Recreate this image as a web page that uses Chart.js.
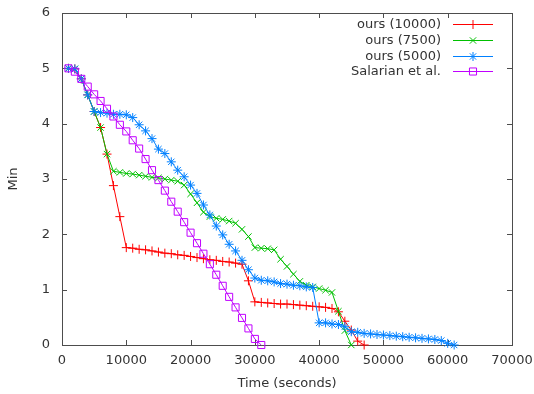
<!DOCTYPE html>
<html>
<head>
<meta charset="utf-8">
<script src="https://cdn.jsdelivr.net/npm/chart.js@4/dist/chart.umd.min.js"></script>
<style>
  html, body { margin: 0; padding: 0; background: #fff; }
  #wrap { width: 534px; height: 394px; }
</style>
</head>
<body>
<div id="wrap"><canvas id="chart" width="534" height="394"></canvas></div>
<script>
// --- DATA ---
const seconds = [1000, 2000, 3000, 4000, 5000, 6000, 7000, 8000, 9000, 10000,
  11000, 12000, 13000, 14000, 15000, 16000, 17000, 18000, 19000, 20000,
  21000, 22000, 23000, 24000, 25000, 26000, 27000, 28000, 29000, 30000,
  31000, 32000, 33000, 34000, 35000, 36000, 37000, 38000, 39000, 40000,
  41000, 42000, 43000, 44000, 45000, 46000, 47000, 48000, 49000, 50000,
  51000, 52000, 53000, 54000, 55000, 56000, 57000, 58000, 59000, 60000, 61000];

const seriesLabels = ['ours (10000)', 'ours (7500)', 'ours (5000)', 'Salarian et al.'];

const ours10000 = [5.0, 4.99, 4.81, 4.52, 4.22, 3.93, 3.45, 2.88, 2.32, 1.76,
  1.75, 1.73, 1.72, 1.70, 1.68, 1.66, 1.65, 1.63, 1.62, 1.60,
  1.58, 1.56, 1.54, 1.53, 1.51, 1.50, 1.48, 1.46, 1.16, 0.78,
  0.77, 0.76, 0.75, 0.74, 0.74, 0.73, 0.72, 0.71, 0.70, 0.69,
  0.68, 0.66, 0.60, 0.43, 0.27, 0.07, 0.0];

const ours7500 = [5.0, 4.99, 4.81, 4.52, 4.22, 3.93, 3.45, 3.14, 3.12, 3.10,
  3.09, 3.07, 3.05, 3.03, 3.02, 3.00, 2.98, 2.96, 2.89, 2.73,
  2.57, 2.40, 2.32, 2.29, 2.27, 2.24, 2.20, 2.09, 1.96, 1.76,
  1.75, 1.74, 1.72, 1.55, 1.42, 1.28, 1.15, 1.08, 1.05, 1.02,
  0.99, 0.95, 0.61, 0.26, 0.0];

const ours5000 = [5.0, 4.99, 4.81, 4.52, 4.22, 4.20, 4.19, 4.17, 4.17, 4.16,
  4.11, 3.98, 3.87, 3.73, 3.54, 3.46, 3.31, 3.16, 3.04, 2.89,
  2.74, 2.53, 2.35, 2.15, 1.99, 1.82, 1.70, 1.53, 1.36, 1.21,
  1.17, 1.16, 1.14, 1.11, 1.10, 1.08, 1.07, 1.05, 1.04, 0.40,
  0.40, 0.38, 0.37, 0.33, 0.24, 0.23, 0.21, 0.20, 0.19, 0.18,
  0.17, 0.16, 0.15, 0.14, 0.13, 0.12, 0.11, 0.10, 0.08, 0.03, 0.0];

const salarian = [5.0, 4.94, 4.81, 4.67, 4.53, 4.41, 4.27, 4.13, 3.98, 3.86,
  3.70, 3.55, 3.36, 3.16, 2.98, 2.79, 2.59, 2.41, 2.22, 2.03,
  1.84, 1.65, 1.46, 1.27, 1.07, 0.87, 0.68, 0.49, 0.30, 0.11, 0.0];

const xTicks = [0, 10000, 20000, 30000, 40000, 50000, 60000, 70000];
const yTicks = [0, 1, 2, 3, 4, 5, 6];

const FONT = 'DejaVu Sans';
const TEXT = '#333333';
const FRAME = '#4d4d4d';

function toPoints(values) {
  return values.map((v, i) => ({ x: seconds[i], y: v }));
}

function makeSet(label, values, color, style, radius, order) {
  return {
    label: label,
    data: toPoints(values),
    borderColor: color,
    backgroundColor: 'rgba(0,0,0,0)',
    borderWidth: 1,
    pointStyle: style,
    pointRadius: radius,
    pointBorderColor: color,
    pointBackgroundColor: 'rgba(0,0,0,0)',
    pointBorderWidth: 1,
    tension: 0,
    clip: false,
    order: order
  };
}

// --- CADRE + TICKS style gnuplot ---
const gnuFrame = {
  id: 'gnuFrame',
  beforeDatasetsDraw(chart) {
    const { ctx, chartArea: a, scales } = chart;
    ctx.save();
    ctx.strokeStyle = FRAME;
    ctx.lineWidth = 1;
    ctx.strokeRect(Math.round(a.left) + 0.5, Math.round(a.top) + 0.5,
      Math.round(a.right - a.left), Math.round(a.bottom - a.top));
    ctx.beginPath();
    xTicks.forEach(t => {
      const px = Math.round(scales.x.getPixelForValue(t)) + 0.5;
      ctx.moveTo(px, a.bottom); ctx.lineTo(px, a.bottom - 5);
      ctx.moveTo(px, a.top); ctx.lineTo(px, a.top + 5);
    });
    yTicks.forEach(t => {
      const py = Math.round(scales.y.getPixelForValue(t)) + 0.5;
      ctx.moveTo(a.left, py); ctx.lineTo(a.left + 5, py);
      ctx.moveTo(a.right, py); ctx.lineTo(a.right - 5, py);
    });
    ctx.stroke();
    ctx.restore();
  },
  // Legende a droite : texte puis echantillon
  afterDatasetsDraw(chart) {
    const { ctx } = chart;
    ctx.save();
    ctx.font = '13px "' + FONT + '"';
    ctx.textAlign = 'right';
    ctx.textBaseline = 'middle';
    chart.data.datasets.forEach((ds, i) => {
      const y = Math.round(24 + i * 15.8) + 0.5;
      ctx.fillStyle = TEXT;
      ctx.fillText(ds.label, 441, y);
      ctx.strokeStyle = ds.borderColor;
      ctx.lineWidth = 1;
      ctx.beginPath();
      ctx.moveTo(453, y);
      ctx.lineTo(493, y);
      ctx.stroke();
      ctx.fillStyle = 'rgba(0,0,0,0)';
      Chart.helpers.drawPoint(ctx, {
        pointStyle: ds.pointStyle, radius: ds.pointRadius, borderWidth: 1, rotation: 0
      }, 473, y);
    });
    ctx.restore();
  }
};

new Chart(document.getElementById('chart'), {
  type: 'line',
  data: {
    datasets: [
      makeSet(seriesLabels[0], ours10000, '#ff0000', 'cross', 4.5, 4),
      makeSet(seriesLabels[1], ours7500, '#00c000', 'crossRot', 4.5, 3),
      makeSet(seriesLabels[2], ours5000, '#0080ff', 'star', 4.5, 2),
      makeSet(seriesLabels[3], salarian, '#c000ff', 'rect', 5, 1)
    ]
  },
  options: {
    responsive: false,
    animation: false,
    devicePixelRatio: 1,
    layout: { padding: { top: 13, right: 22, left: 0, bottom: 0 } },
    plugins: {
      legend: { display: false },
      tooltip: { enabled: false }
    },
    scales: {
      x: {
        type: 'linear',
        min: 0,
        max: 70000,
        grid: { display: false, drawTicks: false },
        border: { display: false },
        afterBuildTicks: s => { s.ticks = xTicks.map(v => ({ value: v })); },
        afterFit: s => { s.height = 49; s.paddingLeft = 0; s.paddingRight = 0; },
        ticks: {
          color: TEXT,
          font: { family: FONT, size: 13 },
          padding: 8,
          maxRotation: 0,
          callback: v => String(v)
        },
        title: {
          display: true,
          text: 'Time (seconds)',
          color: TEXT,
          font: { family: FONT, size: 13 },
          padding: { top: 0, bottom: 3 }
        }
      },
      y: {
        type: 'linear',
        min: 0,
        max: 6,
        grid: { display: false, drawTicks: false },
        border: { display: false },
        afterBuildTicks: s => { s.ticks = yTicks.map(v => ({ value: v })); },
        afterFit: s => { s.width = 62; s.paddingTop = 0; s.paddingBottom = 0; },
        ticks: {
          color: TEXT,
          font: { family: FONT, size: 13 },
          padding: 12,
          callback: v => String(v)
        },
        title: {
          display: true,
          text: 'Min',
          color: TEXT,
          font: { family: FONT, size: 13 },
          padding: { top: 6, bottom: 0 }
        }
      }
    }
  },
  plugins: [gnuFrame]
});
</script>
</body>
</html>
